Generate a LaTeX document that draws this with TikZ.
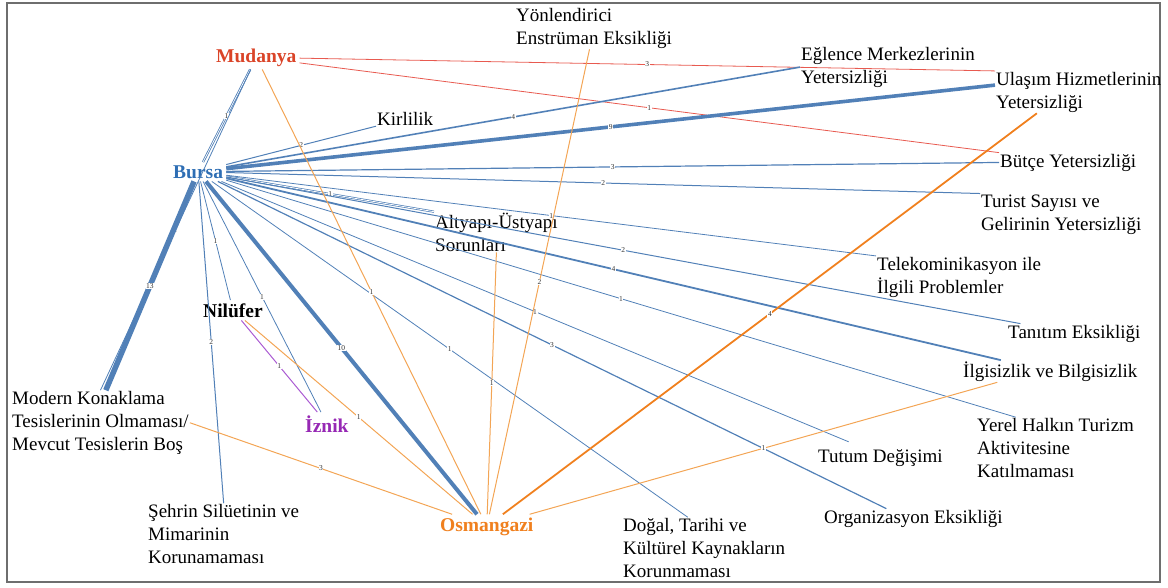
\documentclass[tikz,border=0pt]{standalone}
\usepackage{fontspec}
\setmainfont{Liberation Serif}
\usepackage{tikz}
\usetikzlibrary{calc}

\definecolor{mudred}{RGB}{218,68,40}
\definecolor{burblue}{RGB}{46,110,180}
\definecolor{osmorange}{RGB}{240,128,30}
\definecolor{iznpurple}{RGB}{150,40,180}
\definecolor{eblue}{RGB}{50,105,170}
\definecolor{ered}{RGB}{232,90,80}
\definecolor{eorange}{RGB}{243,165,85}
\definecolor{epurple}{RGB}{170,90,210}
\definecolor{framegray}{RGB}{110,110,110}

\begin{document}
\begin{tikzpicture}[x=1pt, y=-1pt,
    topic/.style={font=\fontsize{19}{22.7}\selectfont, align=left, inner sep=1pt, anchor=base west},
    hub/.style={font=\fontsize{19.5}{22}\selectfont\bfseries, inner sep=3pt, anchor=base west},
    elab/.style={font=\fontsize{7.5}{7.5}\selectfont, text=gray!40!black, fill=white, inner sep=0.6pt},
    bedge/.style={draw=eblue!85, line width=#1},
    redge/.style={draw=ered, line width=#1},
    oedge/.style={draw=eorange, line width=#1},
    pedge/.style={draw=epurple, line width=#1}]

    \useasboundingbox (0,0) rectangle (1168,587);
    \draw[framegray, line width=1.8pt] (7,3) rectangle (1160,582);

    \node[hub, text=mudred] (mud) at (213,62) {Mudanya};
    \node[hub, text=burblue] (bur) at (170,178) {Bursa};
    \node[hub, text=black] (nil) at (200,317) {Nilüfer};
    \node[hub, text=iznpurple] (izn) at (302,432) {İznik};
    \node[hub, text=osmorange] (osm) at (437,531) {Osmangazi};

    \node[topic] (yon) at (515,44) {Yönlendirici\\Enstrüman Eksikliği};
    \node[topic] (egl) at (800,83) {Eğlence Merkezlerinin\\Yetersizliği};
    \node[topic] (ula) at (995,108) {Ulaşım Hizmetlerinin\\Yetersizliği};
    \node[topic] (but) at (999,167) {Bütçe Yetersizliği};
    \node[topic] (tur) at (980,230) {Turist Sayısı ve\\Gelirinin Yetersizliği};
    \node[topic] (kir) at (376,125) {Kirlilik};
    \node[topic] (alt) at (434,251) {Altyapı-Üstyapı\\Sorunları};
    \node[topic] (tel) at (876,293) {Telekominikasyon ile\\İlgili Problemler};
    \node[topic] (tan) at (1007,338) {Tanıtım Eksikliği};
    \node[topic] (ilg) at (962,377) {İlgisizlik ve Bilgisizlik};
    \node[topic] (yer) at (976,477) {Yerel Halkın Turizm\\Aktivitesine\\Katılmaması};
    \node[topic] (tut) at (817,462) {Tutum Değişimi};
    \node[topic] (org) at (823,523) {Organizasyon Eksikliği};
    \node[topic] (dog) at (622,577) {Doğal, Tarihi ve\\Kültürel Kaynakların\\Korunmaması};
    \node[topic] (mod) at (11,450) {Modern Konaklama\\Tesislerinin Olmaması/\\Mevcut Tesislerin Boş};
    \node[topic] (seh) at (147,563) {Şehrin Silüetinin ve\\Mimarinin\\Korunamaması};

    \draw[redge=0.8pt] (mud) -- (ula.north west) node[elab, midway] {3};
    \draw[redge=0.8pt] (mud) -- (but.north west) node[elab, midway] {1};
    \draw[bedge=0.8pt, double=white, double distance=0.7pt] (mud) -- (bur) node[elab, midway] {1};
    \draw[bedge=0.8pt] (mud) -- ($(mod.north west)!.5!(mod.north east)$) node[elab, midway] {1};

    \draw[bedge=1pt] (bur) -- (kir.south west) node[elab, midway] {2};
    \draw[bedge=1.6pt] (bur) -- (egl.west) node[elab, midway] {4};
    \draw[bedge=3.6pt] (bur) -- ([yshift=7pt]ula.west) node[elab, midway] {9};
    \draw[bedge=1.2pt] (bur) -- (but.west) node[elab, midway] {3};
    \draw[bedge=1pt] (bur) -- (tur.north west) node[elab, midway] {2};
    \draw[bedge=0.7pt, double=white, double distance=0.8pt] (bur) -- (alt.north west) node[elab, midway] {1};
    \draw[bedge=0.8pt] (bur) -- (tel.north west) node[elab, midway] {1};
    \draw[bedge=1pt] (bur) -- ($(tan.north west)!.1!(tan.north east)$) node[elab, midway] {2};
    \draw[bedge=1.8pt] (bur) -- ($(ilg.north west)!.22!(ilg.north east)$) node[elab, midway] {4};
    \draw[bedge=0.8pt] (bur) -- ($(yer.north west)!.25!(yer.north east)$) node[elab, midway] {1};
    \draw[bedge=0.8pt] (bur) -- ([yshift=6pt]$(tut.north west)!.25!(tut.north east)$) node[elab, midway] {1};
    \draw[bedge=1.2pt] (bur) -- ($(org.north west)!.35!(org.north east)$) node[elab, midway] {3};
    \draw[bedge=0.8pt] (bur) -- ($(dog.north west)!.4!(dog.north east)$) node[elab, midway] {1};
    \draw[bedge=4pt] (bur) -- (osm) node[elab, midway] {10};
    \draw[bedge=0.8pt] (bur) -- (izn) node[elab, midway] {1};
    \draw[bedge=0.8pt] (bur) -- (nil) node[elab, midway] {1};
    \draw[bedge=1pt] (bur) -- ($(seh.north west)!.5!(seh.north east)$) node[elab, midway] {2};
    \draw[bedge=5.5pt] (bur) -- ($(mod.north west)!.53!(mod.north east)$) node[elab, midway] {13};

    \draw[oedge=1pt] (osm) -- (mud) node[elab, midway] {1};
    \draw[oedge=1pt] (osm) -- (alt.south) node[elab, midway] {1};
    \draw[oedge=1pt] (osm) -- (yon) node[elab, midway] {2};
    \draw[oedge=1.8pt, draw=osmorange] (osm) -- ($(ula.south west)!.25!(ula.south east)$) node[elab, midway] {4};
    \draw[oedge=1pt] (osm) -- ($(ilg.south west)!.2!(ilg.south east)$) node[elab, midway] {1};
    \draw[oedge=1pt] (osm) -- (mod.east) node[elab, midway] {3};
    \draw[oedge=1pt] (osm) -- (nil) node[elab, midway] {1};

    \draw[pedge=1pt] (izn) -- (nil) node[elab, midway] {1};

\end{tikzpicture}
\end{document}
